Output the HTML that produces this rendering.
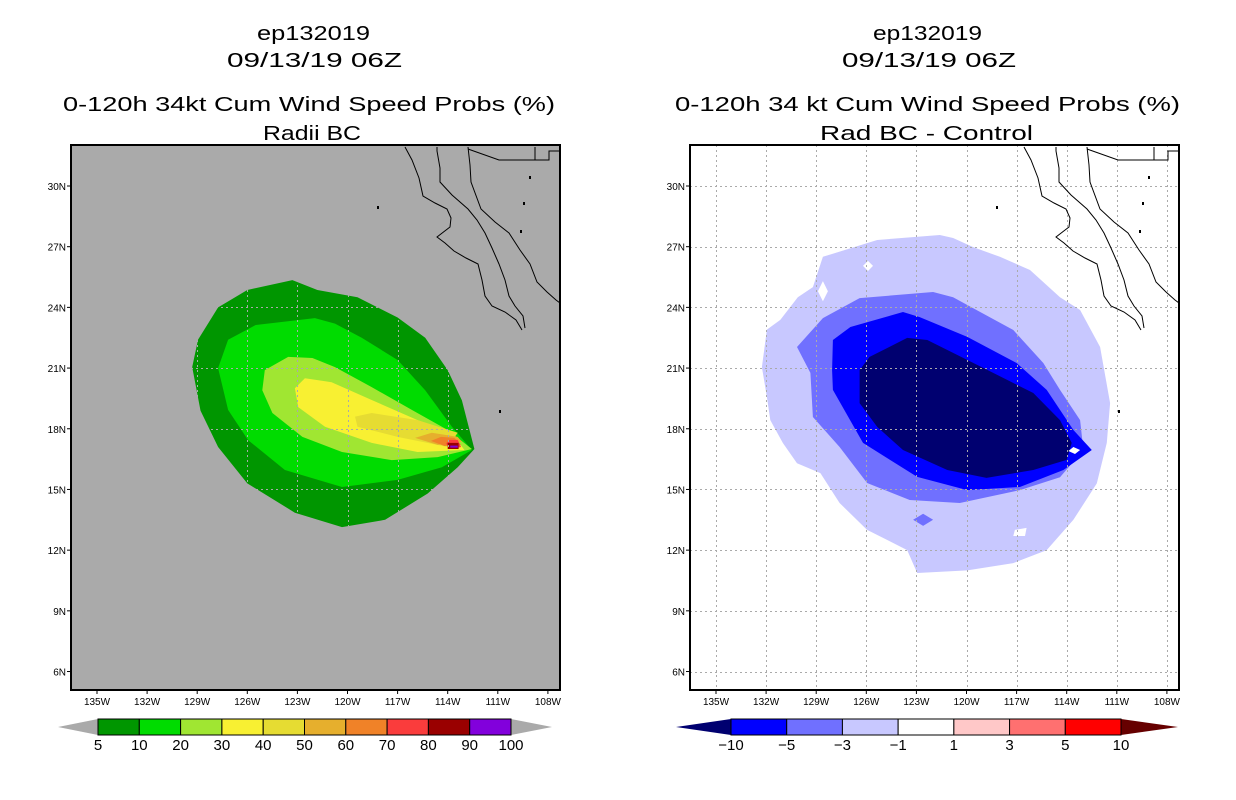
<!DOCTYPE html>
<html><head><meta charset="utf-8"><title>ep132019 wind speed probs</title>
<style>
html,body{margin:0;padding:0;background:#fff;}
svg{display:block;}
text{font-family:"Liberation Sans",sans-serif;fill:#000;}
</style></head>
<body>
<svg id="chart" width="1236" height="800" viewBox="0 0 1236 800" xmlns="http://www.w3.org/2000/svg">
<g id="left"></g>
<g id="right"></g>
</svg>
<script>
// ---- axis data ----
const lonTicks = [-135,-132,-129,-126,-123,-120,-117,-114,-111,-108];
const latTicks = [30,27,24,21,18,15,12,9,6];
const lonLabels = ["135W","132W","129W","126W","123W","120W","117W","114W","111W","108W"];
const latLabels = ["30N","27N","24N","21N","18N","15N","12N","9N","6N"];

// ---- left panel contour data (lon, lat) ----
const probLevels = [5,10,20,30,40,50,60,70,80,90,100];
const probColors = ["#009600","#00dc00","#a0e632","#f8f032","#e6dc32","#e6af2d","#f08228","#fa3c3c","#9a0000","#8200dc"];
const prob5 = [[-123.3,25.35],[-126.0,24.86],[-127.75,24.0],[-128.95,22.4],[-129.3,21.05],[-128.8,18.9],[-127.75,17.1],[-126.0,15.3],[-123.15,13.85],[-120.33,13.14],[-117.75,13.5],[-115.2,14.8],[-113.4,16.1],[-112.4,17.0],[-113.15,19.4],[-114.0,20.9],[-115.35,22.5],[-117.0,23.5],[-119.4,24.5],[-121.8,24.86]];
const prob10 = [[-121.95,23.47],[-125.5,23.13],[-127.15,22.4],[-127.75,21.0],[-127.15,18.93],[-125.95,17.44],[-123.75,15.96],[-120.33,15.12],[-117.0,15.47],[-114.35,16.1],[-112.55,16.95],[-113.75,18.1],[-115.35,19.9],[-117.0,21.4],[-119.15,22.5],[-120.75,23.2]];
const prob20 = [[-123.55,21.55],[-124.95,20.9],[-125.1,19.9],[-124.5,18.78],[-122.7,17.6],[-120.33,16.85],[-117.35,16.45],[-114.6,16.6],[-112.55,17.0],[-114.0,17.94],[-116.15,18.93],[-118.55,20.06],[-120.75,21.05],[-122.1,21.5]];
const prob30 = [[-122.55,20.5],[-123.15,20.0],[-122.95,19.07],[-121.35,18.1],[-118.55,17.3],[-115.8,16.85],[-113.0,16.95],[-113.75,17.8],[-115.8,18.43],[-118.55,19.42],[-120.95,20.3]];
const prob40 = [[-119.55,18.6],[-119.4,18.1],[-117.0,17.6],[-114.0,17.1],[-113.4,17.8],[-115.8,18.43],[-118.55,18.78]];
const prob50 = [[-115.95,17.55],[-114.6,17.2],[-113.15,17.35],[-113.4,17.6],[-114.95,17.8]];
const prob60 = [[-115.0,17.4],[-114.2,17.15],[-113.2,17.2],[-113.6,17.55],[-114.4,17.6]];
const prob70 = [[-114.1,17.25],[-113.7,17.0],[-113.2,17.1],[-113.4,17.45],[-113.9,17.45]];
const prob80 = [[-114.0,17.3],[-114.0,17.0],[-113.35,17.0],[-113.35,17.3]];
const prob90 = [[-113.85,17.17],[-113.85,17.07],[-113.4,17.07],[-113.4,17.17]];
const probPolys = [prob5,prob10,prob20,prob30,prob40,prob50,prob60,prob70,prob80,prob90];

// ---- right panel contour data (lon, lat) ----
const diffLevels = [-10,-5,-3,-1,1,3,5,10];
const diffColors = ["#000070","#0000ff","#7070ff","#c8c8ff","#ffffff","#ffc8c8","#ff7070","#ff0000"];
const diffM1 = [[-121.6,27.58],[-125.35,27.33],[-128.6,26.5],[-129.2,25.0],[-130.1,24.5],[-131.15,23.38],[-131.95,22.9],[-132.25,21.05],[-131.95,19.57],[-131.75,18.43],[-131.0,17.3],[-130.15,16.3],[-128.75,15.81],[-127.6,14.33],[-125.95,13.0],[-123.55,12.0],[-122.95,10.87],[-119.95,11.0],[-117.2,11.36],[-115.2,12.0],[-113.6,13.5],[-112.2,15.3],[-111.6,17.3],[-111.4,19.27],[-112.0,22.04],[-113.2,23.87],[-114.4,24.5],[-116.2,25.85],[-118.0,26.5],[-119.6,26.98],[-120.8,27.43]];
const diffM3 = [[-122.0,24.76],[-126.4,24.46],[-128.6,23.47],[-130.15,22.04],[-129.35,20.76],[-129.2,18.58],[-127.6,17.1],[-125.95,15.32],[-123.4,14.48],[-120.4,14.33],[-116.8,14.97],[-114.4,15.6],[-113.0,16.95],[-113.2,18.43],[-114.4,19.92],[-115.4,21.25],[-117.2,22.88],[-119.4,23.87],[-120.8,24.5]];
const diffM3b = [[-122.6,13.8],[-122.0,13.5],[-122.6,13.2],[-123.2,13.5]];
const diffM5 = [[-123.8,23.77],[-126.95,23.03],[-128.0,22.39],[-128.05,20.9],[-128.0,19.92],[-126.2,17.3],[-122.95,15.62],[-119.95,14.97],[-116.8,15.12],[-114.2,15.96],[-112.5,16.95],[-113.6,17.94],[-115.2,19.92],[-117.0,21.25],[-119.95,22.54],[-122.8,23.52]];
const diffM10 = [[-123.55,22.49],[-125.8,21.55],[-126.4,20.9],[-126.4,19.27],[-125.35,18.09],[-123.8,16.95],[-121.15,15.96],[-118.8,15.57],[-116.0,15.96],[-114.0,16.46],[-113.7,17.3],[-114.4,18.43],[-116.0,19.77],[-118.4,20.76],[-120.8,21.75],[-122.35,22.39]];
const diffHoles = [[[-125.9,26.3],[-125.6,26.05],[-125.9,25.8],[-126.2,26.05]],[[-128.6,25.3],[-128.3,24.8],[-128.6,24.3],[-128.9,24.8]],[[-113.6,17.1],[-113.2,16.95],[-113.5,16.75],[-113.9,16.9]],[[-117.1,13.0],[-116.4,13.1],[-116.5,12.7],[-117.2,12.7]]];

// ---- map geometry (pixel path in left-panel frame) ----
const coastPac = [[405,147],[412,160],[419,178],[423,196],[435,203],[447,209],[451,218],[450,227],[437,237],[445,243],[454,251],[466,258],[478,264],[482,280],[485,296],[492,306],[505,312],[516,320],[522,330]];
const coastGulf = [[437,147],[437,151],[440,168],[440,182],[452,195],[468,209],[477,220],[485,233],[492,248],[499,264],[505,280],[509,296],[515,306],[523,316],[525,328]];
const coastMain = [[468,147],[470,165],[471,182],[481,209],[495,222],[509,233],[520,250],[530,264],[537,282],[547,292],[556,300],[560,303]];
const border1 = [[468,149],[499,160],[535,160],[535,147]];
const border2 = [[535,160],[549,160],[549,151],[560,151]];
const islands = [[378,208],[530,178],[524,204],[521,232],[500,412]];

const NS = "http://www.w3.org/2000/svg";
function mk(tag, attrs, parent){const e=document.createElementNS(NS,tag);for(const k in attrs)e.setAttribute(k,attrs[k]);parent.appendChild(e);return e;}

const FR = {l:71, r:560, t:145, b:690};
function xLon(lon,dx){return 97 + (lon+135)*16.7 + dx;}
function yLat(lat){return 186 + (30-lat)*20.23;}
function polyPts(arr,dx){return arr.map(p=>xLon(p[0],dx).toFixed(1)+","+yLat(p[1]).toFixed(1)).join(" ");}
function pixPts(arr,dx){return arr.map(p=>(p[0]+dx)+","+p[1]).join(" ");}

function drawPanel(g, dx, bg, layers, titles, titleBoxes, clipId){
  const svg=document.getElementById('chart');
  const defs=mk('defs',{},g);
  const cp=mk('clipPath',{id:clipId},defs);
  mk('rect',{x:FR.l+dx,y:FR.t,width:FR.r-FR.l,height:FR.b-FR.t},cp);
  const bgr=mk('rect',{x:FR.l+dx,y:FR.t,width:FR.r-FR.l,height:FR.b-FR.t,fill:bg},g);
  
  
  const plot=mk('g',{'clip-path':'url(#'+clipId+')'},g);
  
  
  layers.forEach(L=>{
    const p=mk('polygon',{points:polyPts(L.pts,dx),fill:L.color},plot);
    
    
  });
  // grid
  const grid=mk('g',{stroke:'#aaaaaa','stroke-width':1,'stroke-dasharray':'2,3'},plot);
  
  
  lonTicks.forEach(v=>{const x=Math.round(xLon(v,dx))+0.5;mk('line',{x1:x,y1:FR.t,x2:x,y2:FR.b},grid);});
  latTicks.forEach(v=>{const y=Math.round(yLat(v))+0.5;mk('line',{x1:FR.l+dx,y1:y,x2:FR.r+dx,y2:y},grid);});
  // coastline
  const cg=mk('g',{fill:'none',stroke:'#000','stroke-width':1},plot);
  
  
  [coastPac,coastGulf,coastMain,border1,border2].forEach(c=>mk('polyline',{points:pixPts(c,dx)},cg));
  islands.forEach(p=>mk('rect',{x:p[0]+dx-1,y:p[1]-2,width:2,height:3,fill:'#000',stroke:'none'},cg));
  // frame
  const fr=mk('rect',{x:FR.l+dx,y:FR.t,width:FR.r-FR.l,height:FR.b-FR.t,fill:'none',stroke:'#000','stroke-width':2},g);
  
  
  // ticks + labels
  lonTicks.forEach((v,i)=>{
    const x=xLon(v,dx);
    mk('line',{x1:x,y1:FR.b,x2:x,y2:FR.b+4,stroke:'#000'},g);
    const t=mk('text',{x:x,y:FR.b+15,'font-size':10,'text-anchor':'middle'},g);
    t.textContent=lonLabels[i];
    
    
  });
  latTicks.forEach((v,i)=>{
    const y=yLat(v);
    mk('line',{x1:FR.l+dx-4,y1:y,x2:FR.l+dx,y2:y,stroke:'#000'},g);
    const t=mk('text',{x:FR.l+dx-5,y:y+4,'font-size':10,'text-anchor':'end'},g);
    t.textContent=latLabels[i];
    
    
  });
  const ys=[40,67,111,140];
  const names=['title-storm-id','title-date','title-product','subtitle'];
  titles.forEach((s,i)=>{
    const b=titleBoxes[i];
    const t=mk('text',{x:b[0],y:ys[i],'font-size':20,textLength:b[1]-b[0],lengthAdjust:'spacingAndGlyphs'},g);
    t.textContent=s;
    
    
  });
}

const left=document.getElementById('left');
const leftLayers=probPolys.map((p,i)=>({pts:p,color:probColors[i],name:'contour-'+probLevels[i]+'-pct'}));
drawPanel(left,0,'#aaaaaa',leftLayers,
  ["ep132019","09/13/19 06Z","0-120h 34kt Cum Wind Speed Probs (%)","Radii BC"],
  [[257,370],[227,402],[63,555],[263,361]],'clipL');

const right=document.getElementById('right');
const rightLayers=[
  {pts:diffM1,color:diffColors[3],name:'contour-minus1'},
  {pts:diffM3,color:diffColors[2],name:'contour-minus3'},
  {pts:diffM3b,color:diffColors[2],name:'contour-minus3-spot'},
  {pts:diffM5,color:diffColors[1],name:'contour-minus5'},
  {pts:diffM10,color:diffColors[0],name:'contour-minus10'}
].concat(diffHoles.map((h,i)=>({pts:h,color:'#ffffff',name:'contour-neutral-spot'})));
drawPanel(right,619,'#ffffff',rightLayers,
  ["ep132019","09/13/19 06Z","0-120h 34 kt Cum Wind Speed Probs (%)","Rad BC - Control"],
  [[873,982],[842,1016],[675,1180],[820,1033]],'clipR');

// ---- colorbars ----
function colorbar(parent,x0,x1,tipL,tipR,colors,labels,lc,rc,name){
  const g=mk('g',{},parent);
  
  
  const y0=719,y1=735,ym=727,n=colors.length,w=(x1-x0)/n;
  const tl=mk('polygon',{points:`${tipL},${ym} ${x0},${y0} ${x0},${y1}`,fill:lc},g);
  
  
  const tr=mk('polygon',{points:`${tipR},${ym} ${x1},${y0} ${x1},${y1}`,fill:rc},g);
  
  
  colors.forEach((c,i)=>{
    const r=mk('rect',{x:x0+i*w,y:y0,width:w,height:y1-y0,fill:c,stroke:'#000','stroke-width':1},g);
    
    
  });
  labels.forEach((s,i)=>{
    const t=mk('text',{x:x0+i*w,y:750,'font-size':15,'text-anchor':'middle'},g);
    t.textContent=s;
    
    
  });
}
colorbar(left,98,511,58,552,probColors,probLevels.map(String),'#aaaaaa','#aaaaaa','colorbar-probability');
colorbar(right,731,1121,676,1178,diffColors.slice(1),diffLevels.map(v=>v<0?'\u2212'+(-v):String(v)),'#000070','#660000','colorbar-difference');
</script>
</body></html>
